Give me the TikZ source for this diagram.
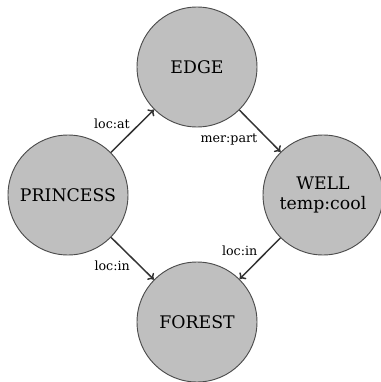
\documentclass[tikz,border=0pt]{standalone}
\usepackage{fontspec}
\setmainfont{DejaVu Serif}
\usetikzlibrary{arrows.meta}
\begin{document}
\begin{tikzpicture}[x=0.75pt,y=-0.75pt,
  concept/.style={circle,draw=black!70,line width=0.7pt,fill=black!25,
    minimum size=90pt,inner sep=0pt,align=center,font=\fontsize{13}{15}\selectfont},
  rel/.style={draw=black!80,line width=1.1pt,-{To[length=4pt,width=7pt]}},
  lab/.style={font=\fontsize{9.5}{11}\selectfont,inner sep=1.5pt}]
  \useasboundingbox (0,0) rectangle (380,382);
  \node[concept] (edge) at (197,67) {EDGE};
  \node[concept] (princess) at (68,195) {PRINCESS};
  \node[concept] (well) at (323,195) {WELL\\temp:cool};
  \node[concept] (forest) at (197,322) {FOREST};
  \draw[rel] (princess) -- node[lab,above left] {loc:at} (edge);
  \draw[rel] (edge) -- node[lab,below left] {mer:part} (well);
  \draw[rel] (princess) -- node[lab,below left] {loc:in} (forest);
  \draw[rel] (well) -- node[lab,above left] {loc:in} (forest);
\end{tikzpicture}
\end{document}
